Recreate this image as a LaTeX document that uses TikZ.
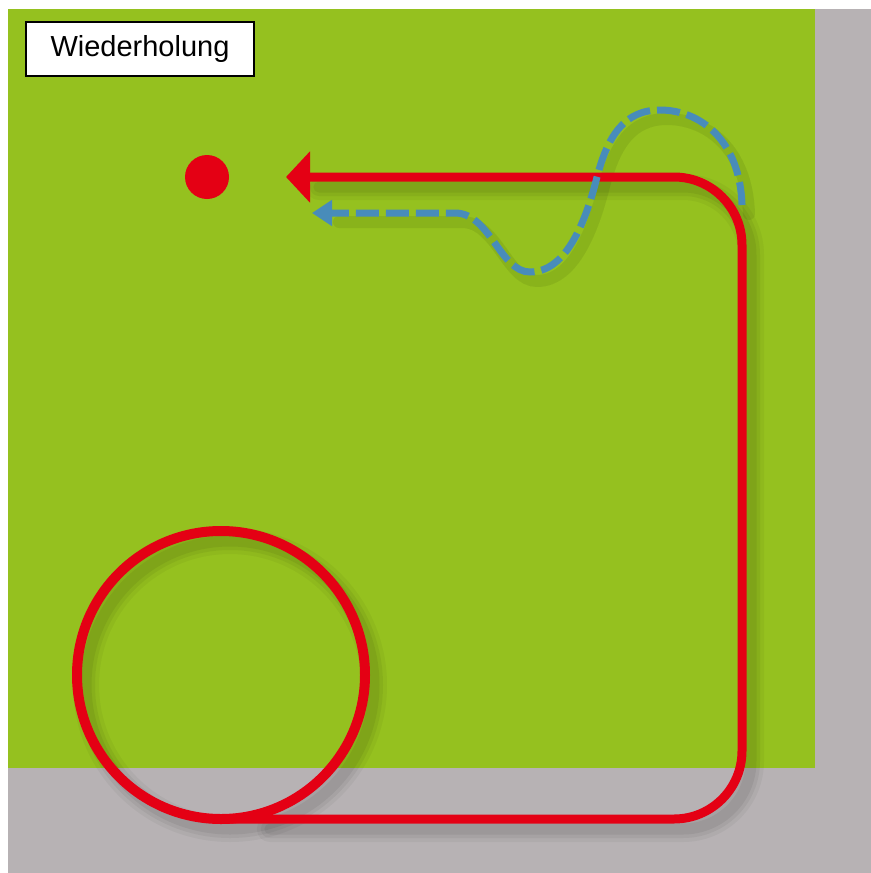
\documentclass[tikz,border=0pt]{standalone}
\usepackage{fontspec}
\setmainfont{Liberation Sans}
\usetikzlibrary{arrows.meta}
\definecolor{bggreen}{RGB}{149,193,31}
\definecolor{bggray}{RGB}{183,178,180}
\definecolor{loopred}{RGB}{228,0,20}
\definecolor{wayblue}{RGB}{72,140,186}
\tikzset{
  redline/.style={draw=loopred, line width=9bp},
  blueline/.style={draw=wayblue, line width=7bp, dash pattern=on 23bp off 7bp},
  shadowA/.style={draw=black, opacity=0.04, line width=26bp, line cap=round},
  shadowB/.style={draw=black, opacity=0.05, line width=18bp, line cap=round},
  shadowC/.style={draw=black, opacity=0.06, line width=11bp, line cap=round},
  labelbox/.style={draw=black, line width=2bp, fill=white, minimum width=228bp, minimum height=54bp, inner sep=0pt, font=\fontsize{29bp}{34bp}\selectfont}
}
\begin{document}
\begin{tikzpicture}[x=1bp, y=-1bp]
\useasboundingbox (0,0) rectangle (871,873);
\fill[white] (0,0) rectangle (871,873);
\fill[bggray] (8,9) rectangle (871,873);
\fill[bggreen] (8,9) rectangle (815,768);

% key points
\coordinate (cc) at (221,675);
\coordinate (cb) at (221,819);
\coordinate (br) at (742,819);
\coordinate (tr) at (742,177);
\coordinate (tip) at (286,177);
\coordinate (bs) at (742,205);
\coordinate (btip) at (312,213);

% soft shadows
\begin{scope}[transform canvas={shift={(9,10)}}]
\foreach \s in {shadowA,shadowB,shadowC}{
    \path[\s] (cc) circle[radius=144];
    \path[\s, rounded corners=68bp] ([xshift=40]cb) -- (br) -- (tr) -- ([xshift=24]tip);
}
\end{scope}
\begin{scope}[transform canvas={shift={(7,9)}}]
\foreach \s in {shadowA,shadowB}{
    \path[\s, line width=12bp, opacity=0.035] (bs) .. controls (740,140) and (700,110) .. (660,110)
      .. controls (625,110) and (608,135) .. (597,177)
      .. controls (585,225) and (565,272) .. (530,272)
      .. controls (500,272) and (490,213) .. (455,213) -- ([xshift=20]btip);
}
\end{scope}

% red loop
\path[redline, line width=10bp] (cc) circle[radius=144];
\path[redline, rounded corners=68bp, -{Triangle[length=24bp,width=50bp]}]
  (cb) -- (br) -- (tr) -- (tip);

% blue dashed path
\path[blueline, -{Triangle[length=20bp,width=25bp]}]
  (bs) .. controls (740,140) and (700,110) .. (660,110)
  .. controls (625,110) and (608,135) .. (597,177)
  .. controls (585,225) and (565,272) .. (530,272)
  .. controls (500,272) and (490,213) .. (455,213) -- (btip);

% red dot
\fill[loopred] (207,177) circle[radius=22];

% label
\node[labelbox] (lbl) at (140,49) {Wiederholung};
\end{tikzpicture}
\end{document}
